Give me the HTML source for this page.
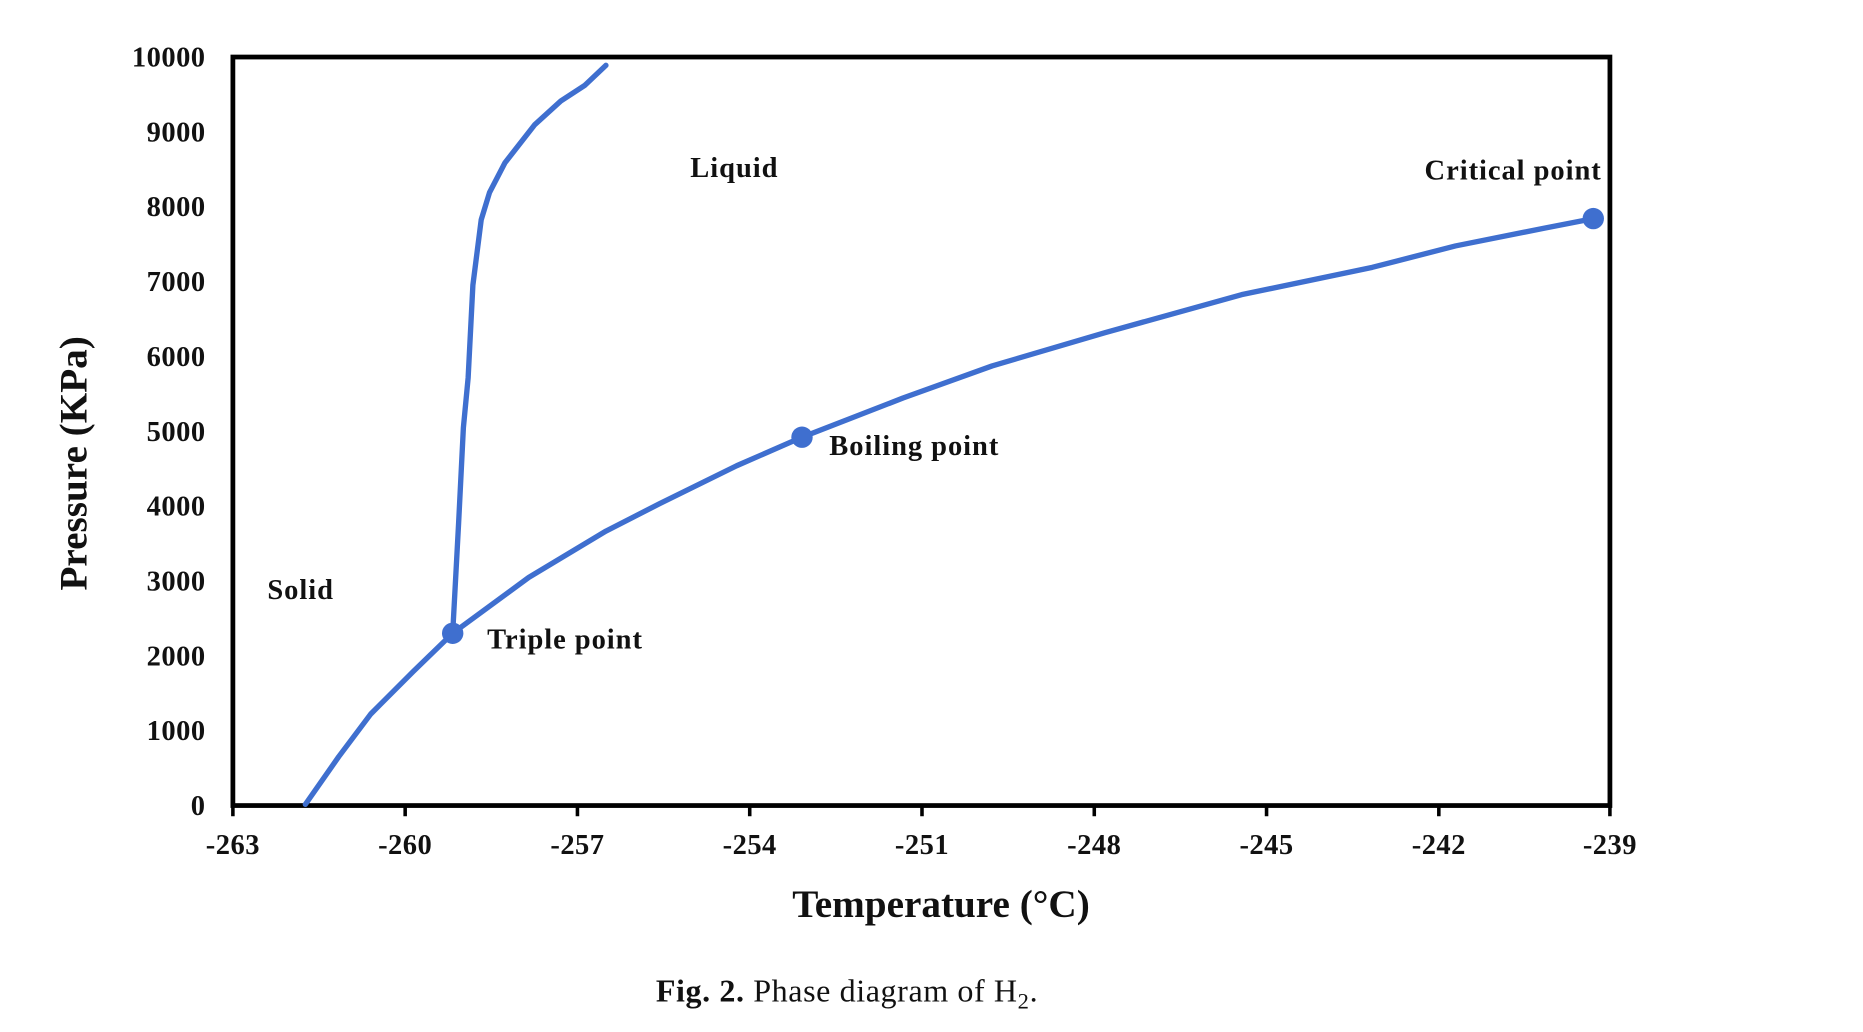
<!DOCTYPE html>
<html><head><meta charset="utf-8"><style>
html,body{margin:0;padding:0;background:#fff;}
svg{display:block;}
text{font-family:"Liberation Serif",serif;font-weight:bold;fill:#111;}
</style></head><body>
<svg width="1863" height="1032" viewBox="0 0 1568 868.6" xmlns="http://www.w3.org/2000/svg">
<rect x="0" y="0" width="1568" height="868.6" fill="#fff"/>
<rect x="196" y="48" width="1159" height="630" fill="none" stroke="#000" stroke-width="4"/>
<g stroke="#000" stroke-width="3">
<line x1="196" y1="678" x2="196" y2="687"/><line x1="341" y1="678" x2="341" y2="687"/>
<line x1="486" y1="678" x2="486" y2="687"/><line x1="631" y1="678" x2="631" y2="687"/>
<line x1="776" y1="678" x2="776" y2="687"/><line x1="921" y1="678" x2="921" y2="687"/>
<line x1="1066" y1="678" x2="1066" y2="687"/><line x1="1211" y1="678" x2="1211" y2="687"/>
<line x1="1355" y1="678" x2="1355" y2="687"/>
</g>
<g font-size="24" text-anchor="end" letter-spacing="0.4">
<text x="173" y="56">10000</text><text x="173" y="119">9000</text><text x="173" y="182">8000</text>
<text x="173" y="245">7000</text><text x="173" y="308">6000</text><text x="173" y="371">5000</text>
<text x="173" y="434">4000</text><text x="173" y="497">3000</text><text x="173" y="560">2000</text>
<text x="173" y="623">1000</text><text x="173" y="686">0</text>
</g>
<g font-size="24" text-anchor="middle" letter-spacing="0.4">
<text x="196" y="719">-263</text><text x="341" y="719">-260</text><text x="486" y="719">-257</text>
<text x="631" y="719">-254</text><text x="776" y="719">-251</text><text x="921" y="719">-248</text>
<text x="1066" y="719">-245</text><text x="1211" y="719">-242</text><text x="1355" y="719">-239</text>
</g>
<text x="792" y="772" font-size="33" text-anchor="middle">Temperature (°C)</text>
<text transform="translate(73,390) rotate(-90)" font-size="33" text-anchor="middle">Pressure (KPa)</text>
<g fill="none" stroke="#3f6fcf" stroke-width="4.5" stroke-linecap="round" stroke-linejoin="round">
<polyline points="257,677 285,637 312,601 348,565 381,533 445,486 510,447 555,424 620,392 675,368 760,335 835,308 930,280 1045,248 1155,225 1225,207 1300,192 1341,184"/>
<polyline points="381,533 386,440 390,360 394,318 398,240 405,185 412,162 425,137 450,105 472,85 492,72 510,55"/>
</g>
<g fill="#3f6fcf">
<circle cx="381" cy="533" r="9"/><circle cx="675" cy="368" r="9"/><circle cx="1341" cy="184" r="9"/>
</g>
<g font-size="24" letter-spacing="0.8">
<text x="581" y="149">Liquid</text>
<text x="1199" y="151">Critical point</text>
<text x="698" y="383">Boiling point</text>
<text x="410" y="546">Triple point</text>
<text x="225" y="504">Solid</text>
</g>
<text x="552" y="843" font-size="27" style="font-weight:normal" letter-spacing="0.5"><tspan font-weight="bold">Fig. 2.</tspan>  Phase diagram of H<tspan font-size="19" dy="6">2</tspan><tspan dy="-6">.</tspan></text>
</svg>
</body></html>
